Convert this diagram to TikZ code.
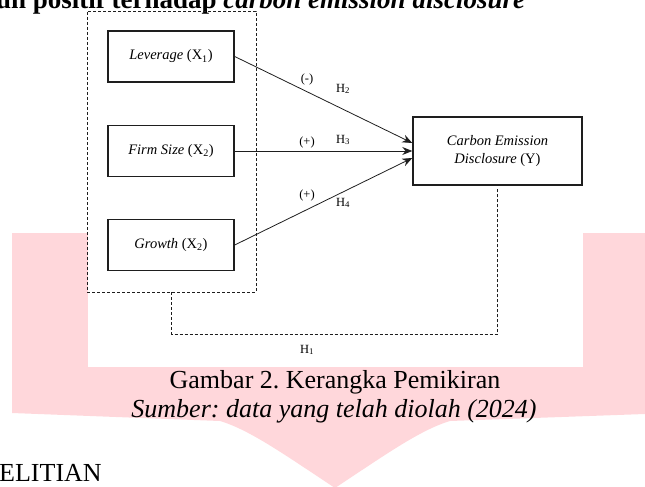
\documentclass[tikz,border=0pt]{standalone}
\usepackage{fontspec}
\setmainfont{Liberation Serif}
\usetikzlibrary{arrows.meta,calc}
\definecolor{wmpink}{RGB}{255,215,219}
\definecolor{ink}{RGB}{30,30,30}
\begin{document}
\frenchspacing
\begin{tikzpicture}[x=1pt,y=-1pt,
  varbox/.style={draw=ink, line width=1.4pt, minimum width=126pt, minimum height=51pt, inner sep=0pt, font=\fontsize{14.5}{18}\selectfont},
  grpbox/.style={draw=ink, line width=0.7pt, dash pattern=on 3pt off 2pt, minimum width=169pt, minimum height=281pt, inner sep=0pt},
  dsh/.style={draw=ink, line width=0.7pt, dash pattern=on 3pt off 2pt},
  arr/.style={draw=ink, line width=0.8pt, -{Stealth[length=10pt,width=8pt]}},
  lbl/.style={font=\fontsize{12.5}{14}\selectfont, inner sep=0pt},
  captext/.style={font=\fontsize{26}{30}\selectfont, inner sep=0pt}
]
\useasboundingbox (0,0) rectangle (645,487);
\begin{scope}
  \clip (0,0) rectangle (645,487);
  \fill[wmpink] (12,233) -- (645,233) -- (645,414) -- (450,421)
     .. controls (420,430) and (385,455) .. (335,488)
     .. controls (285,455) and (250,430) .. (220,421) -- (12,413) -- cycle;
  \fill[white] (88,200) rectangle (583,367);
  \node[anchor=base west, inner sep=0pt, font=\fontsize{27}{30}\selectfont\bfseries] (ttl) at (-16,9) {ruh positif terhadap \textit{carbon emission disclosure}};
  \node[anchor=base west, inner sep=0pt, font=\fontsize{26}{30}\selectfont] (sec) at (-1,481) {ELITIAN};
\end{scope}

% group box
\node[grpbox] (grp) at (171.5,151.5) {};

% variable boxes
\node[varbox] (lev) at (171,56.5) {\textit{Leverage} (X\textsubscript{1})};
\node[varbox] (fs) at (171,151) {\textit{Firm Size} (X\textsubscript{2})};
\node[varbox] (gr) at (171,245) {\textit{Growth} (X\textsubscript{2})};
\node[varbox, minimum width=169pt, minimum height=68pt, align=center] (ced) at (497.5,151) {\textit{Carbon Emission}\\\textit{Disclosure} (Y)};

% arrows
\draw[arr] (lev.east) -- ([yshift=8pt]ced.west);
\draw[arr] (fs.east) -- (ced.west);
\draw[arr] (gr.east) -- ([yshift=-7pt]ced.west);

% labels
\node[lbl] (s2) at (307,79) {(-)};
\node[lbl] (h2) at (343,89) {H\textsubscript{2}};
\node[lbl] (s3) at (307,142) {(+)};
\node[lbl] (h3) at (343,140) {H\textsubscript{3}};
\node[lbl] (s4) at (307,195) {(+)};
\node[lbl] (h4) at (343,203) {H\textsubscript{4}};

% H1 dashed connector
\coordinate (cedb) at ([yshift=-3pt]ced.south);
\draw[dsh] (grp.south) -- ++(0,42) -| (cedb);
\node[lbl] (h1) at (307,350) {H\textsubscript{1}};

% caption
\node[captext] (cap1) at (335,382) {Gambar 2. Kerangka Pemikiran};
\node[captext, font=\fontsize{26}{30}\selectfont\itshape] (cap2) at (334,411) {Sumber: data yang telah diolah (2024)};
\end{tikzpicture}
\end{document}
